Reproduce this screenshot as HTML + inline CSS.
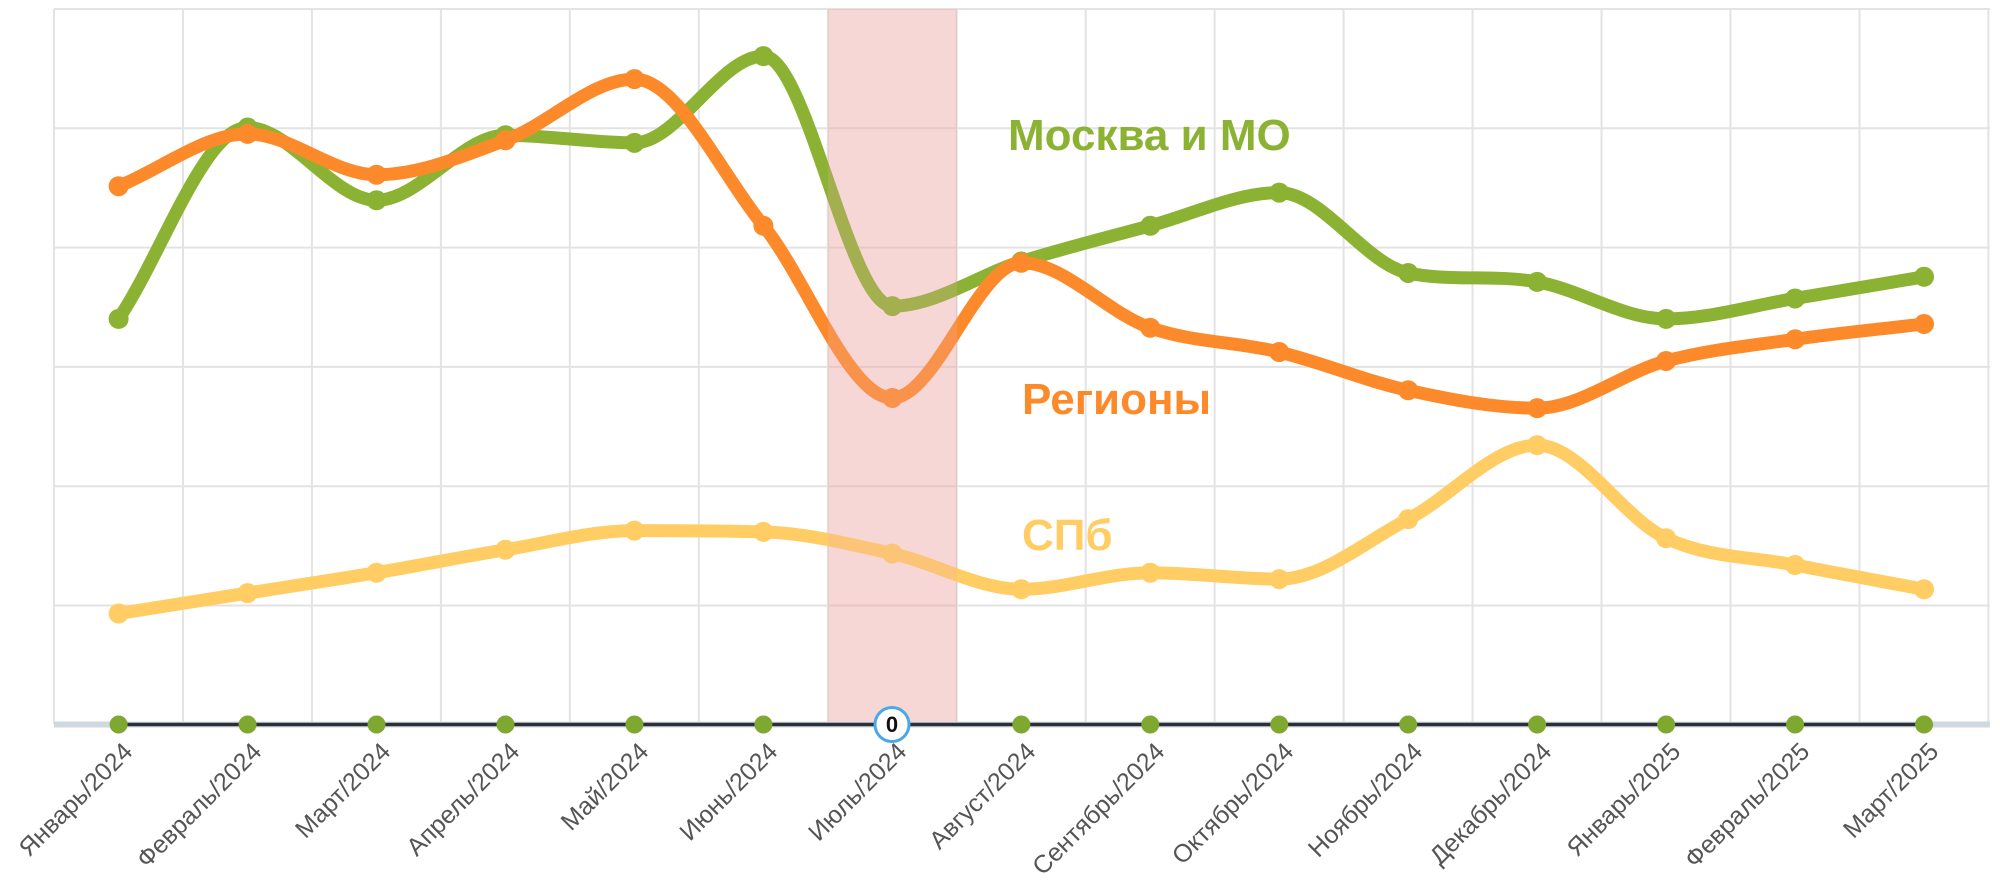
<!DOCTYPE html>
<html><head><meta charset="utf-8">
<style>html,body{margin:0;padding:0;background:#fff;}svg{display:block;font-family:"Liberation Sans",sans-serif;}</style>
</head><body>
<svg id="c" width="2000" height="895" viewBox="0 0 2000 895" xmlns="http://www.w3.org/2000/svg">
<g id="grid" stroke="#e3e3e3" stroke-width="2"></g>
<rect x="828" y="9" width="129" height="715" fill="rgba(240,170,170,0.3)"/>
<g id="lines"></g>
<line x1="54" y1="724.5" x2="1990" y2="724.5" stroke="#cfd8e0" stroke-width="6"/>
<line x1="118" y1="724.5" x2="1924" y2="724.5" stroke="#2a2f38" stroke-width="3.5"/>
<g id="axdots"></g>
<g font-size="44" font-weight="bold">
<text x="1008" y="150" fill="#8bb232">Москва и МО</text>
<text x="1022" y="414" fill="#fd8a2a">Регионы</text>
<text x="1022" y="550" fill="#ffcd64">СПб</text>
</g>
<g font-size="25" fill="#555" text-anchor="end">
<text transform="translate(134,753) rotate(-45)">Январь/2024</text>
<text transform="translate(263,753) rotate(-45)">Февраль/2024</text>
<text transform="translate(392,753) rotate(-45)">Март/2024</text>
<text transform="translate(521,753) rotate(-45)">Апрель/2024</text>
<text transform="translate(650,753) rotate(-45)">Май/2024</text>
<text transform="translate(779,753) rotate(-45)">Июнь/2024</text>
<text transform="translate(908,753) rotate(-45)">Июль/2024</text>
<text transform="translate(1037,753) rotate(-45)">Август/2024</text>
<text transform="translate(1166,753) rotate(-45)">Сентябрь/2024</text>
<text transform="translate(1295,753) rotate(-45)">Октябрь/2024</text>
<text transform="translate(1424,753) rotate(-45)">Ноябрь/2024</text>
<text transform="translate(1553,753) rotate(-45)">Декабрь/2024</text>
<text transform="translate(1682,753) rotate(-45)">Январь/2025</text>
<text transform="translate(1811,753) rotate(-45)">Февраль/2025</text>
<text transform="translate(1940,753) rotate(-45)">Март/2025</text>
</g>
<circle cx="892" cy="724.5" r="17" fill="#fff" stroke="#4aa8e8" stroke-width="3"/>
<text x="892" y="732" font-size="22" font-weight="bold" text-anchor="middle" fill="#111">0</text>
</svg>
<script>
var S=1.2755,NS="http://www.w3.org/2000/svg";
function el(t,a,p){var e=document.createElementNS(NS,t);for(var k in a)e.setAttribute(k,a[k]);p.appendChild(e);return e;}
var g=document.getElementById('grid');
for(var k=0;k<=15;k++){var x=54+128.96*k;el('line',{x1:x,y1:9,x2:x,y2:724},g);}
for(var j=0;j<6;j++){var y=9+119.3*j;el('line',{x1:54,y1:y,x2:1990,y2:y},g);}
var X=[];for(var i=0;i<15;i++)X.push(118.6+128.96*i);
var D={
"#8bb232":[250,100,157,106,112,44,240,205,177,151,214,221,250,234,217],
"#fd8a2a":[146,105,137,110,62,177,312,206,257,276,306,320,283,266,254],
"#ffcd64":[481,465,449,431,416,417,434,462,449,454,407,349,422,443,462]};
function mono(xs,ys){var n=xs.length,d=[],m=[];for(var i=0;i<n-1;i++)d.push((ys[i+1]-ys[i])/(xs[i+1]-xs[i]));
m[0]=d[0];m[n-1]=d[n-2];for(i=1;i<n-1;i++){m[i]=(d[i-1]*d[i]<=0)?0:(d[i-1]+d[i])/2;
var a=m[i]/d[i-1],b=m[i]/d[i];var s=a*a+b*b;if(s>9){var t=3/Math.sqrt(s);m[i]=t*a*d[i-1];}}
var p="M"+xs[0]+","+ys[0];for(i=0;i<n-1;i++){var h=(xs[i+1]-xs[i])/3;
p+="C"+(xs[i]+h)+","+(ys[i]+m[i]*h)+" "+(xs[i+1]-h)+","+(ys[i+1]-m[i+1]*h)+" "+xs[i+1]+","+ys[i+1];}return p;}
var L=document.getElementById('lines');
["#ffcd64","#8bb232","#fd8a2a"].forEach(function(c){var ys=D[c].map(function(v){return v*S;});
el('path',{d:mono(X,ys),fill:"none",stroke:c,"stroke-width":13,"stroke-linejoin":"round","stroke-linecap":"round"},L);
ys.forEach(function(y,i){el('circle',{cx:X[i],cy:y,r:10,fill:c},L);});});
el('rect',{x:828,y:9,width:129,height:715,fill:"rgba(240,170,170,0.25)"},L);
var A=document.getElementById('axdots');
X.forEach(function(x,i){if(i!=6)el('circle',{cx:x,cy:724.5,r:9,fill:"#7fa830"},A);});
</script>
</body></html>
